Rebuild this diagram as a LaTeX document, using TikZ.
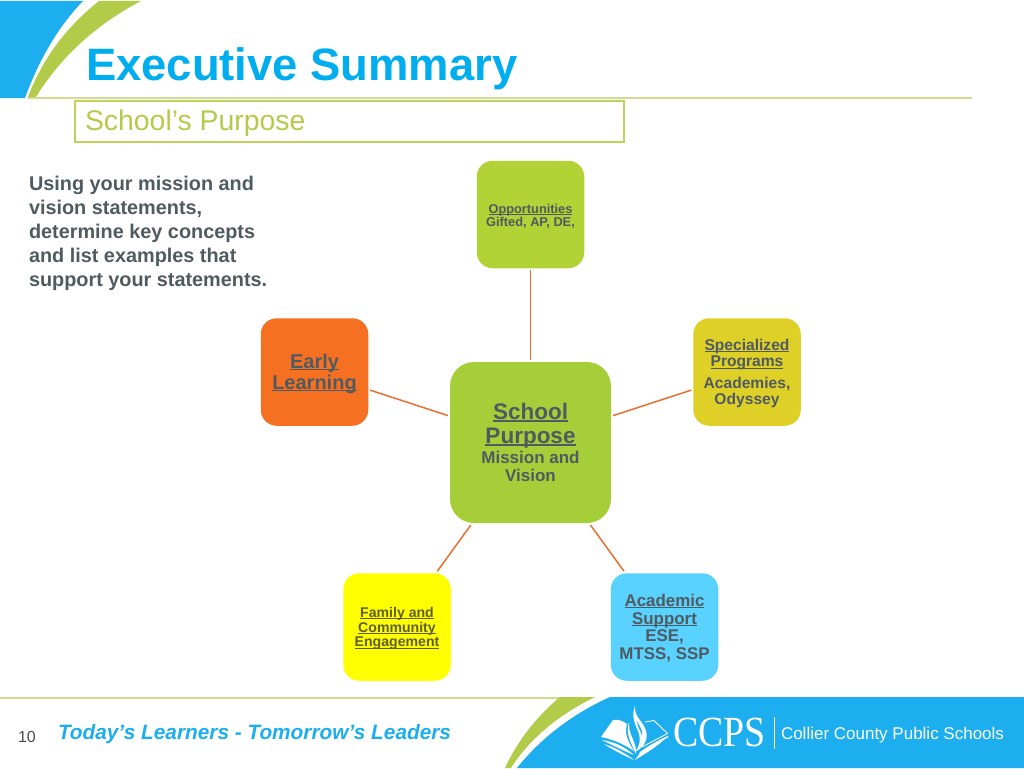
\documentclass[tikz,border=0pt]{standalone}
\usepackage{fontspec}
\setmainfont{Liberation Sans}
\newfontfamily\serifcc{Liberation Serif}
\definecolor{ccblue}{HTML}{1CAEEE}
\definecolor{titleblue}{HTML}{00AEEF}
\definecolor{ccgreen}{HTML}{B2CC4A}
\definecolor{boxline}{HTML}{BDD45C}
\definecolor{paleline}{HTML}{CFDD90}
\definecolor{inktext}{HTML}{4F5B60}
\definecolor{olivetext}{HTML}{5E5E30}
\definecolor{edgeor}{HTML}{E8702F}
\definecolor{cgreen}{HTML}{A6CE39}
\definecolor{clime}{HTML}{B2D235}
\definecolor{corange}{HTML}{F67022}
\definecolor{cgold}{HTML}{DFD028}
\definecolor{cyell}{HTML}{FFFF00}
\definecolor{csky}{HTML}{59D2FF}
\newcommand\ulx[2][1.1pt]{\setbox0\hbox{#2}\rlap{\raisebox{-2pt}{\rule{\wd0}{#1}}}\box0}
\newcommand\fsz[2]{\fontsize{#1}{#2}\selectfont}
\newcommand\lift[1]{\rule{0pt}{#1}}
\tikzset{
  topic/.style={draw=none,rounded corners=16pt,minimum width=107.5pt,minimum height=107.5pt,
    text=inktext,align=center,inner sep=0pt,outer sep=2pt},
  link/.style={draw=edgeor,line width=1.5pt},
  plain/.style={inner sep=0pt,outer sep=0pt}
}
\begin{document}
\begin{tikzpicture}[x=1pt,y=-1pt]
\useasboundingbox (0,0) rectangle (1024,768);
% header
\fill[ccblue] (0,1) -- (83,1) .. controls (55,30) and (37,65) .. (25,98) -- (0,98) -- cycle;
\fill[ccgreen] (99,1) -- (141,1) .. controls (95,25) and (60,58) .. (36,97) -- (28,97) .. controls (42,60) and (65,28) .. (99,1) -- cycle;
\draw[paleline,line width=2pt] (28,97.5) -- (972,97.5);
\node[plain,anchor=base west,font=\bfseries\fsz{45.4}{48},text=titleblue] (title) at (86,80) {Executive Summary};
\node[draw=boxline,line width=1.2pt,minimum width=549pt,minimum height=41pt,inner sep=0pt] (subbox) at (349.5,121.5) {};
\node[plain,anchor=base west,font=\fsz{28.4}{30},text=ccgreen] (subtitle) at (85,130) {School’s Purpose};
% intro
\node[plain,anchor=north west,align=left,text=inktext,font=\bfseries\fsz{19.85}{24}] (intro) at (29,176.5)
 {Using your mission and\\vision statements,\\determine key concepts\\and list examples that\\support your statements.};
% nodes
\node[topic,fill=cgreen,minimum width=161pt,minimum height=161pt,rounded corners=24pt,font=\bfseries\fsz{17}{18}] (center) at (530.5,442.5)
 {{\fsz{22.5}{24}\ulx[1.4pt]{School}}\\[6pt]{\fsz{22.5}{24}\ulx[1.4pt]{Purpose}}\\[2pt]Mission and\\Vision};
\node[topic,fill=clime,font=\bfseries\fsz{12.8}{13}] (opp) at (530.5,214.5)
 {\lift{12.4pt}\ulx[1pt]{Opportunities}\\Gifted, AP, DE,};
\node[topic,fill=corange,font=\bfseries\fsz{20}{21}] (early) at (314.5,372)
 {\lift{17.6pt}\ulx[1.2pt]{Early}\\\ulx[1.2pt]{Learning}};
\node[topic,fill=cgold,font=\bfseries\fsz{15.6}{16.5}] (spec) at (747,372)
 {\lift{14.4pt}\ulx{Specialized}\\\ulx{Programs}\\[5pt]Academies,\\Odyssey};
\node[topic,fill=cyell,text=olivetext,font=\bfseries\fsz{14.1}{14.7}] (fam) at (397,627)
 {\lift{13.3pt}\ulx{Family and}\\\ulx{Community}\\\ulx{Engagement}};
\node[topic,fill=csky,font=\bfseries\fsz{16.9}{17.6}] (acad) at (664.5,627)
 {\lift{14.3pt}\ulx{Academic}\\\ulx{Support}\\ESE,\\MTSS, SSP};
\draw[link] (center) -- (opp);
\draw[link] (center) -- (early);
\draw[link] (center) -- (spec);
\draw[link] (center) -- (fam);
\draw[link] (center) -- (acad);
% footer
\draw[paleline,line width=2pt] (0,697.5) -- (565,697.5);
\fill[ccgreen] (560,697) -- (595,697) .. controls (556,716) and (528,741) .. (511,768) -- (505,768) .. controls (517,742) and (535,718) .. (560,697) -- cycle;
\fill[ccblue] (610,697) -- (1024,697) -- (1024,768) -- (517,768) .. controls (540,739) and (572,714) .. (610,697) -- cycle;
\node[plain,anchor=base,font=\fsz{16}{18},text=black!70] (pageno) at (27,742.5) {10};
\node[plain,anchor=base west,font=\bfseries\itshape\fsz{20.8}{22},text=ccblue] (motto) at (58,739) {Today’s Learners - Tomorrow’s Leaders};
% logo book: left page
\fill[white] (601,737) -- (613,720) .. controls (618,719) and (623,721) .. (627,724) .. controls (624,733) and (628,742) .. (634,751) .. controls (624,744) and (612,739) .. (601,737) -- cycle;
\fill[white] (602,740) .. controls (615,742) and (625,747) .. (634,755) .. controls (622,750) and (612,745) .. (602,740) -- cycle;
\fill[white] (604,744) .. controls (614,747) and (625,753) .. (634,760) .. controls (623,755) and (613,750) .. (604,744) -- cycle;
% flame
\fill[white] (635,706) .. controls (631,716) and (635,724) .. (638,731) .. controls (641,739) and (640,746) .. (635,752) .. controls (646,746) and (649,737) .. (645,728) .. controls (642,721) and (634,716) .. (635,706) -- cycle;
\fill[ccblue] (637,721) .. controls (637,727) and (641,731) .. (642,736) .. controls (643,729) and (639,726) .. (637,721) -- cycle;
\fill[white] (629,722) .. controls (625,733) and (631,743) .. (636,754) .. controls (637,742) and (628,735) .. (629,722) -- cycle;
% right page
\draw[white,line width=.9pt,line join=round] (645,722) -- (654,720.5) -- (667.5,733.5) -- (642,747);
\fill[white] (637,757) .. controls (645,749) and (656,742) .. (668,736) .. controls (658,746) and (648,752) .. (635,760) -- cycle;
\fill[white] (640,752) .. controls (648,746) and (657,741) .. (668,736) -- (668,737.5) .. controls (658,742) and (648,748) .. (638,756) -- cycle;
\node[plain,anchor=base west,font=\serifcc\fsz{43}{45},text=white,xscale=.88] (ccps) at (673,746) {CCPS};
\draw[white,line width=.6pt] (774,717) -- (774,749);
\node[plain,anchor=base west,font=\fsz{17}{18},text=white] (collier) at (781,739) {Collier County Public Schools};
\end{tikzpicture}
\end{document}
